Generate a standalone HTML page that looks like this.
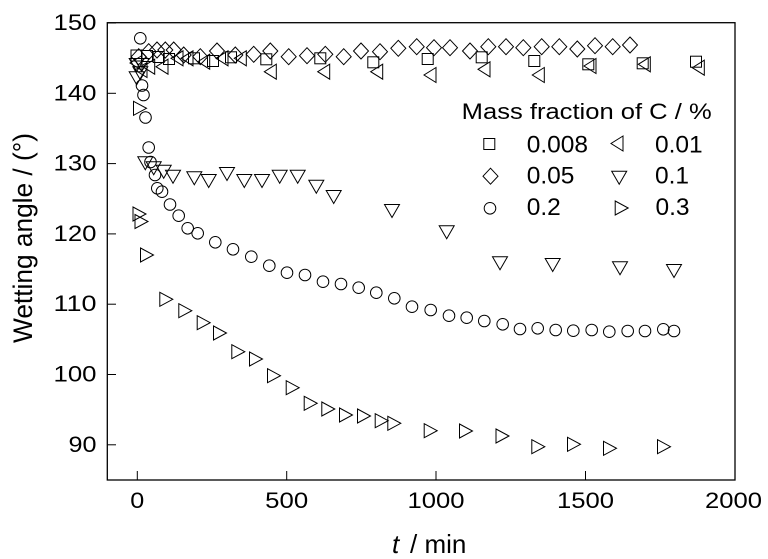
<!DOCTYPE html>
<html><head><meta charset="utf-8"><style>
html,body{margin:0;padding:0;background:#fff;}
svg{display:block;}
text{font-family:"Liberation Sans",Arial,sans-serif;fill:#000;}
</style></head><body>
<svg width="768" height="559" viewBox="0 0 768 559" xmlns="http://www.w3.org/2000/svg">
<defs>
<rect id="sq" x="-5.5" y="-5.5" width="11" height="11"/>
<polygon id="di" points="0,-8 7.5,0 0,8 -7.5,0"/>
<circle id="ci" cx="0" cy="0" r="5.8"/>
<polygon id="lt" points="6,-7.5 -6,0 6,7.5"/>
<polygon id="dt" points="-7.5,-6.5 7.5,-6.5 0,6.5"/>
<polygon id="rt" points="-6.5,-7 6.5,0 -6.5,7"/>
</defs>
<rect x="0" y="0" width="768" height="559" fill="#fff"/>
<rect x="107.3" y="22.7" width="627.7" height="457.3" fill="none" stroke="#000" stroke-width="1.3"/>
<g stroke="#000" stroke-width="1">
<line x1="107" y1="23" x2="116" y2="23"/>
<line x1="107" y1="93.3" x2="116" y2="93.3"/>
<line x1="107" y1="163.6" x2="116" y2="163.6"/>
<line x1="107" y1="233.9" x2="116" y2="233.9"/>
<line x1="107" y1="304.2" x2="116" y2="304.2"/>
<line x1="107" y1="374.5" x2="116" y2="374.5"/>
<line x1="107" y1="444.8" x2="116" y2="444.8"/>
<line x1="137.3" y1="480" x2="137.3" y2="471"/>
<line x1="286.7" y1="480" x2="286.7" y2="471"/>
<line x1="436" y1="480" x2="436" y2="471"/>
<line x1="585.5" y1="480" x2="585.5" y2="471"/>
</g>
<g font-size="22" text-anchor="end">
<text x="96.5" y="30" textLength="43" lengthAdjust="spacingAndGlyphs">150</text>
<text x="96.5" y="100.3" textLength="43" lengthAdjust="spacingAndGlyphs">140</text>
<text x="96.5" y="170.6" textLength="43" lengthAdjust="spacingAndGlyphs">130</text>
<text x="96.5" y="240.9" textLength="43" lengthAdjust="spacingAndGlyphs">120</text>
<text x="96.5" y="311.2" textLength="43" lengthAdjust="spacingAndGlyphs">110</text>
<text x="96.5" y="381.5" textLength="43" lengthAdjust="spacingAndGlyphs">100</text>
<text x="96.5" y="451.8" textLength="28" lengthAdjust="spacingAndGlyphs">90</text>
</g>
<g font-size="22" text-anchor="middle">
<text x="137.3" y="508" textLength="14" lengthAdjust="spacingAndGlyphs">0</text>
<text x="286.7" y="508" textLength="43" lengthAdjust="spacingAndGlyphs">500</text>
<text x="436" y="508" textLength="57" lengthAdjust="spacingAndGlyphs">1000</text>
<text x="585.5" y="508" textLength="57" lengthAdjust="spacingAndGlyphs">1500</text>
<text x="733.5" y="508" textLength="57" lengthAdjust="spacingAndGlyphs">2000</text>
</g>
<text transform="translate(32,238) rotate(-90)" font-size="26.5" text-anchor="middle" textLength="210" lengthAdjust="spacingAndGlyphs">Wetting angle / (°)</text>
<text x="392" y="553" font-size="26" font-style="italic">t</text>
<text x="410" y="553" font-size="26">/ min</text>
<text x="461.7" y="119" font-size="22" textLength="250" lengthAdjust="spacingAndGlyphs">Mass fraction of C / %</text>
<g font-size="24.5">
<text x="526.7" y="152.7">0.008</text>
<text x="655" y="152.7">0.01</text>
<text x="526.7" y="183.3">0.05</text>
<text x="655" y="183.3">0.1</text>
<text x="526.7" y="215">0.2</text>
<text x="655.5" y="215">0.3</text>
</g>
<g fill="none" stroke="#000" stroke-width="1">
<use href="#sq" x="489.3" y="144"/>
<use href="#lt" x="617" y="143.5"/>
<use href="#di" x="490.5" y="176.2"/>
<use href="#dt" x="619.2" y="177.8"/>
<use href="#ci" x="490" y="208.3"/>
<use href="#rt" x="621.7" y="208"/>
<use href="#sq" x="136.5" y="55.5"/>
<use href="#sq" x="147" y="56"/>
<use href="#sq" x="158.7" y="57"/>
<use href="#sq" x="169" y="59"/>
<use href="#sq" x="194" y="58.3"/>
<use href="#sq" x="213" y="61"/>
<use href="#sq" x="231" y="57.3"/>
<use href="#sq" x="266.3" y="59.3"/>
<use href="#sq" x="320.3" y="58.3"/>
<use href="#sq" x="373.3" y="62.3"/>
<use href="#sq" x="427.7" y="59"/>
<use href="#sq" x="481.7" y="57.3"/>
<use href="#sq" x="534.3" y="61"/>
<use href="#sq" x="588.3" y="64.3"/>
<use href="#sq" x="642.7" y="63.3"/>
<use href="#sq" x="696" y="61.7"/>
<use href="#di" x="138.7" y="56.7"/>
<use href="#di" x="148.7" y="51.7"/>
<use href="#di" x="157" y="50"/>
<use href="#di" x="165.3" y="50"/>
<use href="#di" x="173.7" y="50"/>
<use href="#di" x="183.7" y="55"/>
<use href="#di" x="200.3" y="56.7"/>
<use href="#di" x="217" y="51"/>
<use href="#di" x="235.3" y="55"/>
<use href="#di" x="253.7" y="54.3"/>
<use href="#di" x="270.3" y="51"/>
<use href="#di" x="288.7" y="56.7"/>
<use href="#di" x="307" y="55.7"/>
<use href="#di" x="325.3" y="54.3"/>
<use href="#di" x="343.7" y="56.7"/>
<use href="#di" x="361" y="51"/>
<use href="#di" x="380" y="51.7"/>
<use href="#di" x="398.3" y="48.3"/>
<use href="#di" x="416.7" y="46.7"/>
<use href="#di" x="434" y="47.7"/>
<use href="#di" x="450" y="47.7"/>
<use href="#di" x="470" y="51"/>
<use href="#di" x="488.3" y="46.7"/>
<use href="#di" x="506" y="46.7"/>
<use href="#di" x="523.3" y="47.7"/>
<use href="#di" x="541.7" y="46.7"/>
<use href="#di" x="559.3" y="46.7"/>
<use href="#di" x="577.3" y="49"/>
<use href="#di" x="595" y="45.7"/>
<use href="#di" x="612.7" y="46.7"/>
<use href="#di" x="630" y="45"/>
<use href="#lt" x="136" y="63"/>
<use href="#lt" x="141" y="70"/>
<use href="#lt" x="148.7" y="66.7"/>
<use href="#lt" x="162" y="66.7"/>
<use href="#lt" x="177" y="58.3"/>
<use href="#lt" x="187" y="58.3"/>
<use href="#lt" x="203.7" y="61.7"/>
<use href="#lt" x="222" y="58.3"/>
<use href="#lt" x="240.3" y="58.3"/>
<use href="#lt" x="270.3" y="71.7"/>
<use href="#lt" x="323.7" y="71.7"/>
<use href="#lt" x="376.7" y="71.7"/>
<use href="#lt" x="430" y="75"/>
<use href="#lt" x="484" y="69.3"/>
<use href="#lt" x="538.3" y="75"/>
<use href="#lt" x="590" y="66"/>
<use href="#lt" x="644.3" y="64.3"/>
<use href="#lt" x="698.3" y="67.7"/>
<use href="#dt" x="136.7" y="65"/>
<use href="#dt" x="141.7" y="65"/>
<use href="#dt" x="136.7" y="78.3"/>
<use href="#dt" x="140.3" y="73.3"/>
<use href="#dt" x="145.3" y="163.3"/>
<use href="#dt" x="153.7" y="168.3"/>
<use href="#dt" x="163.7" y="171.7"/>
<use href="#dt" x="173" y="176.7"/>
<use href="#dt" x="194.3" y="178.3"/>
<use href="#dt" x="208.7" y="181"/>
<use href="#dt" x="227" y="174"/>
<use href="#dt" x="244.3" y="181"/>
<use href="#dt" x="262" y="181"/>
<use href="#dt" x="279.7" y="176.7"/>
<use href="#dt" x="297.7" y="176.7"/>
<use href="#dt" x="316.3" y="186.7"/>
<use href="#dt" x="333.7" y="197"/>
<use href="#dt" x="392" y="211"/>
<use href="#dt" x="446.7" y="232.3"/>
<use href="#dt" x="500" y="263.3"/>
<use href="#dt" x="552.7" y="265"/>
<use href="#dt" x="620" y="268.3"/>
<use href="#dt" x="674" y="271"/>
<use href="#ci" x="140.3" y="38.3"/>
<use href="#ci" x="142" y="85.5"/>
<use href="#ci" x="143.5" y="95"/>
<use href="#ci" x="145.5" y="117.5"/>
<use href="#ci" x="148.7" y="147.5"/>
<use href="#ci" x="150.5" y="162"/>
<use href="#ci" x="155" y="175"/>
<use href="#ci" x="157.3" y="188.3"/>
<use href="#ci" x="162" y="191.7"/>
<use href="#ci" x="170" y="204.5"/>
<use href="#ci" x="178.7" y="215.7"/>
<use href="#ci" x="187.7" y="228.3"/>
<use href="#ci" x="197.7" y="233.3"/>
<use href="#ci" x="215.3" y="242.3"/>
<use href="#ci" x="233" y="249.3"/>
<use href="#ci" x="251.3" y="256.7"/>
<use href="#ci" x="269.3" y="265.7"/>
<use href="#ci" x="287" y="272.7"/>
<use href="#ci" x="305" y="275"/>
<use href="#ci" x="323" y="281.7"/>
<use href="#ci" x="341" y="284"/>
<use href="#ci" x="358.7" y="287.7"/>
<use href="#ci" x="376.3" y="292.7"/>
<use href="#ci" x="394.3" y="298.3"/>
<use href="#ci" x="412" y="306.7"/>
<use href="#ci" x="430.7" y="310"/>
<use href="#ci" x="449" y="315.7"/>
<use href="#ci" x="466.7" y="317.7"/>
<use href="#ci" x="484.3" y="321"/>
<use href="#ci" x="502.7" y="324.3"/>
<use href="#ci" x="520" y="329"/>
<use href="#ci" x="537.7" y="328.3"/>
<use href="#ci" x="555.7" y="330"/>
<use href="#ci" x="573.3" y="330.7"/>
<use href="#ci" x="591.7" y="330"/>
<use href="#ci" x="609.3" y="331.7"/>
<use href="#ci" x="627.7" y="331"/>
<use href="#ci" x="645" y="331"/>
<use href="#ci" x="663.3" y="329.3"/>
<use href="#ci" x="674" y="331"/>
<use href="#rt" x="140" y="108.3"/>
<use href="#rt" x="139.5" y="214"/>
<use href="#rt" x="141.5" y="221.5"/>
<use href="#rt" x="147" y="255"/>
<use href="#rt" x="166.3" y="299.3"/>
<use href="#rt" x="185.3" y="310.7"/>
<use href="#rt" x="203.7" y="322.7"/>
<use href="#rt" x="220" y="333"/>
<use href="#rt" x="238.3" y="351.7"/>
<use href="#rt" x="256" y="359"/>
<use href="#rt" x="274" y="375.7"/>
<use href="#rt" x="292.7" y="387.7"/>
<use href="#rt" x="310.7" y="403.3"/>
<use href="#rt" x="328.3" y="409"/>
<use href="#rt" x="346" y="415"/>
<use href="#rt" x="364" y="416"/>
<use href="#rt" x="381.7" y="420.7"/>
<use href="#rt" x="394.3" y="423.3"/>
<use href="#rt" x="430.7" y="430.7"/>
<use href="#rt" x="466" y="431"/>
<use href="#rt" x="502.5" y="436"/>
<use href="#rt" x="538.3" y="446.7"/>
<use href="#rt" x="574" y="444.3"/>
<use href="#rt" x="610" y="448.3"/>
<use href="#rt" x="664" y="446.7"/>
</g>
</svg>
</body></html>
